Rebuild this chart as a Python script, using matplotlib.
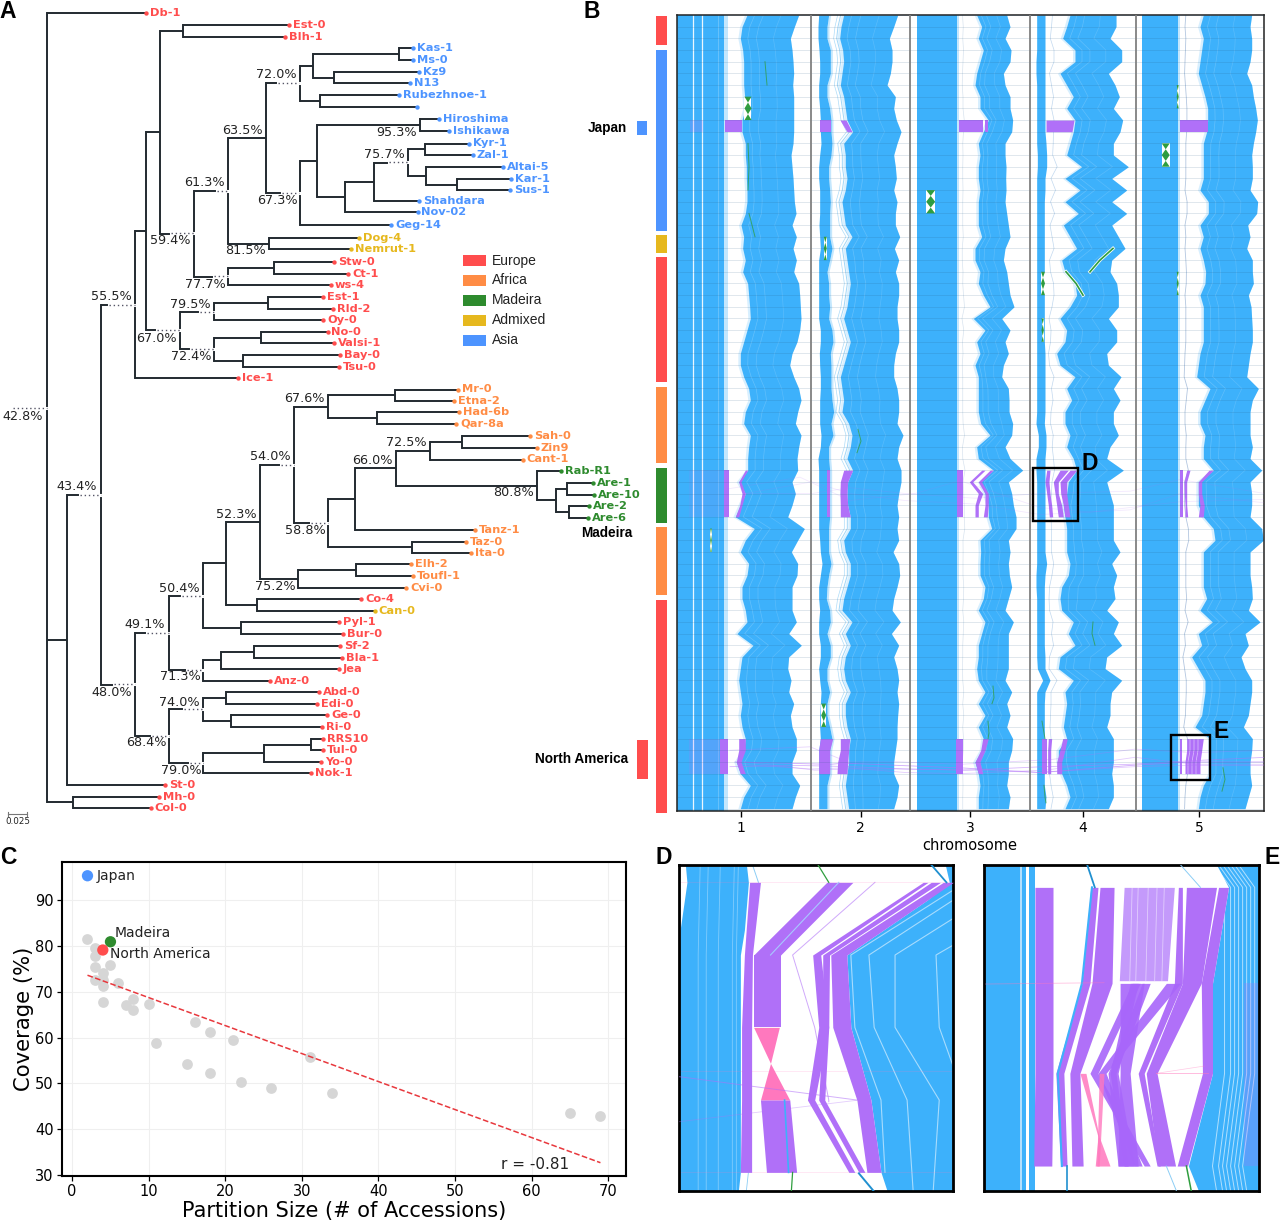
import matplotlib
matplotlib.use('Agg')
import matplotlib.pyplot as plt
import numpy as np

W, H = 1280, 1223

EUROPE = '#FF4D4D'
AFRICA = '#FF8C45'
MADEIRA = '#2E8B2E'
ADMIXED = '#E6B81E'
ASIA = '#4D94FF'
BLUE = '#3DB1FB'
PURPLE = '#B070F8'
PINK = '#FF78BE'
GREEN = '#2F9E3F'

# ---- panel A: accessions (name, tip x, row y, group)
leaf_names = ['Db-1', 'Est-0', 'Blh-1', 'Kas-1', 'Ms-0', 'Kz9', 'N13', 'Rubezhnoe-1', 'unnamed', 'Hiroshima',
              'Ishikawa', 'Kyr-1', 'Zal-1', 'Altai-5', 'Kar-1', 'Sus-1', 'Shahdara', 'Nov-02', 'Geg-14', 'Dog-4',
              'Nemrut-1', 'Stw-0', 'Ct-1', 'ws-4', 'Est-1', 'Rld-2', 'Oy-0', 'No-0', 'Valsi-1', 'Bay-0', 'Tsu-0',
              'Ice-1', 'Mr-0', 'Etna-2', 'Had-6b', 'Qar-8a', 'Sah-0', 'Zin9', 'Cant-1', 'Rab-R1', 'Are-1', 'Are-10',
              'Are-2', 'Are-6', 'Tanz-1', 'Taz-0', 'Ita-0', 'Elh-2', 'Toufl-1', 'Cvi-0', 'Co-4', 'Can-0', 'Pyl-1',
              'Bur-0', 'Sf-2', 'Bla-1', 'Jea', 'Anz-0', 'Abd-0', 'Edi-0', 'Ge-0', 'Ri-0', 'RRS10', 'Tul-0', 'Yo-0',
              'Nok-1', 'St-0', 'Mh-0', 'Col-0']
leaf_x = [146, 289, 285, 412.5, 412.5, 418.6, 409.6, 399, 416.8, 438.6,
          449, 469, 472.5, 503, 510.7, 510, 419, 417.5, 391, 359,
          350.7, 334, 348, 331, 323, 333, 323, 327.5, 334, 340, 338.6,
          238, 458, 453.7, 458.8, 456, 530, 536.6, 522.7, 560.6, 592.6, 594,
          589, 588.4, 474.7, 466, 471, 410.8, 412.5, 406, 361, 374.6, 339,
          343, 340, 341.8, 339, 270, 319, 316.5, 327.4, 322, 322.8, 322.8, 320.7,
          310.6, 165.4, 158.7, 150.7]
leaf_y = [13.3, 25, 36.7, 48, 60, 72, 83, 95, 106.5, 119,
          131, 143.5, 155, 167, 179, 190, 201, 212, 225, 238,
          249, 262, 274, 285, 297, 309, 320, 332, 343, 355, 367,
          378, 389.5, 401, 412, 424, 436, 448, 459.5, 471, 483, 494.6,
          506, 517.6, 530, 541.6, 553, 564, 576, 587.6, 599, 611, 622,
          634, 645.6, 657.6, 669, 680.6, 692, 703.6, 715, 727, 739, 750, 762,
          773, 785, 796.6, 808]
leaf_groups = 'EEE' + 'A' * 16 + 'XX' + 'E' * 11 + 'F' * 7 + 'M' * 5 + 'F' * 6 + 'EX' + 'E' * 19
group_colors = {'E': EUROPE, 'F': AFRICA, 'M': MADEIRA, 'X': ADMIXED, 'A': ASIA}

# internal nodes: (vertical line x, children...)
asia_top = (300, (313, (399, 'Kas-1', 'Ms-0'), (334, 'Kz9', 'N13')), (320, 'Rubezhnoe-1', 'unnamed'))
asia_low = (300, (317, (420, 'Hiroshima', 'Ishikawa'),
                  (345, (374, (408, (425, 'Kyr-1', 'Zal-1'), (426, 'Altai-5', (457, 'Kar-1', 'Sus-1'))), 'Shahdara'),
                   'Nov-02')), 'Geg-14')
upper = (193.5, (228, (266, asia_top, asia_low), (268.6, 'Dog-4', 'Nemrut-1')),
         (228, (273.6, 'Stw-0', 'Ct-1'), 'ws-4'))
euro = (179.6, (214, (268, 'Est-1', 'Rld-2'), 'Oy-0'), (213.6, (261, 'No-0', 'Valsi-1'), (243, 'Bay-0', 'Tsu-0')))
top_clade = (135, (146, (160, (183, 'Est-0', 'Blh-1'), upper), euro), 'Ice-1')
madeira_clade = (537, 'Rab-R1', (556, (567, 'Are-1', 'Are-10'), (569, 'Are-2', 'Are-6')))
africa = (294, (328, (394.8, 'Mr-0', 'Etna-2'), (376.7, 'Had-6b', 'Qar-8a')),
          (328, (355, (396, (430, (462, 'Sah-0', 'Zin9'), 'Cant-1'), madeira_clade), 'Tanz-1'),
           (411.6, 'Taz-0', 'Ita-0')))
mixed = (203, (226, (259.5, africa, (298, (355.6, 'Elh-2', 'Toufl-1'), 'Cvi-0')), (257, 'Co-4', 'Can-0')),
         (241, 'Pyl-1', 'Bur-0'))
sf = (203, (221, (254, 'Sf-2', 'Bla-1'), 'Jea'), 'Anz-0')
abd = (169, (203, (225.6, 'Abd-0', 'Edi-0'), (231, 'Ge-0', 'Ri-0')),
       (203, (263.5, (311, 'RRS10', 'Tul-0'), 'Yo-0'), 'Nok-1'))
low_clade = (134.7, (169, mixed, sf), abd)
tree = (47, 'Db-1', (66.5, (100.5, top_clade, low_clade), 'St-0'), (73, 'Mh-0', 'Col-0'))

support_text = ['72.0%', '63.5%', '61.3%', '59.4%', '81.5%', '67.3%', '95.3%', '75.7%', '77.7%', '79.5%', '55.5%',
                '67.0%', '72.4%', '42.8%', '43.4%', '67.6%', '54.0%', '72.5%', '66.0%', '80.8%', '52.3%', '58.8%',
                '75.2%', '50.4%', '49.1%', '71.3%', '48.0%', '74.0%', '68.4%', '79.0%']
support_x = [276, 242, 204, 170, 246, 277, 397, 384, 205, 190, 111, 156, 191, 22.7, 76.6, 304, 270, 406.6, 372.5, 514,
             236, 305, 275.7, 179, 145, 180, 112, 179, 146, 181]
support_y = [75, 131, 183, 241, 251, 200, 132, 155, 284, 304, 297, 338, 357, 416, 487, 399, 457, 443, 460.7, 493,
             514, 530, 586, 588, 625, 677, 692, 702, 743, 771]
dot_x0 = [278, 217, 171, 282, 389, 213.5, 200, 109, 157, 191, 12.6, 80, 281, 311, 182, 147, 187, 113.6, 184, 151.5, 190]
dot_x1 = [299, 228, 193.5, 299, 408, 228, 213.6, 135, 179.6, 213.6, 47, 100.5, 294, 328, 203, 169, 203, 134.7, 203, 169, 203]
dot_y = [83, 191, 233, 193, 162, 276, 312, 305, 330, 349, 407.7, 495, 465, 523, 596, 633, 670, 684, 709, 736, 763]

legend_names = ['Europe', 'Africa', 'Madeira', 'Admixed', 'Asia']
legend_colors = [EUROPE, AFRICA, MADEIRA, ADMIXED, ASIA]
legend_y = [260.5, 280.5, 300.5, 320.5, 340.5]

# ---- panel B: side bars (top y, bottom y, colour)
bar_tops = [16, 50, 235, 257, 387, 468, 527, 600]
bar_bottoms = [45, 231, 253, 382, 463, 523, 595, 813]
bar_colors = [EUROPE, ASIA, ADMIXED, EUROPE, AFRICA, MADEIRA, AFRICA, EUROPE]

chr1_inner = [210, 195, 190, 197, 200, 200, 200, 203, 205, 195, 195, 205, 205, 208, 208, 210, 210, 205, 192, 200,
              197, 205, 197, 212, 215, 218, 220, 210, 200, 190, 190, 200, 215, 220, 205,
              200, 220, 215, 212, 212, 185, 205, 190, 175, 232, 205, 190, 215, 210, 195, 195, 205, 210, 180, 228,
              195, 190, 185, 190, 195, 190, 195, 205, 200, 178, 190, 220, 200, 190]
chr1_right = [365, 352, 340, 345, 348, 350, 347, 350, 350, 350, 350, 348, 342, 345, 348, 350, 352, 357, 345, 358,
              348, 358, 350, 365, 368, 370, 372, 368, 360, 345, 338, 350, 365, 372, 362,
              355, 372, 365, 360, 362, 345, 355, 345, 332, 382, 362, 343, 362, 360, 345, 345, 345, 358, 335, 373,
              335, 332, 342, 335, 350, 340, 345, 358, 358, 345, 345, 368, 355, 345]
chr2_left_l = [425, 423, 423, 426, 428, 428, 425, 425, 428, 430, 430, 432, 428, 425, 425, 428, 428, 428, 426, 428,
               430, 425, 425, 425, 425, 425, 425, 430, 430, 427, 428, 430, 430, 428, 428,
               428, 432, 430, 423, 425, 425, 425, 425, 425, 425, 428, 430, 435, 430, 425, 425, 428, 425, 425, 430,
               430, 425, 428, 432, 430, 428, 428, 430, 425, 425, 425, 425, 425, 425]
chr2_left_r = [455, 450, 450, 460, 460, 460, 450, 450, 458, 462, 462, 465, 462, 455, 455, 458, 460, 458, 458, 458,
               465, 458, 450, 455, 455, 458, 455, 465, 468, 460, 462, 462, 462, 465, 470,
               462, 468, 455, 455, 458, 458, 458, 458, 458, 455, 455, 455, 462, 455, 450, 448, 458, 460, 450, 460,
               460, 450, 450, 458, 450, 450, 458, 465, 458, 458, 458, 450, 450, 450]
chr2_inner = [500, 492, 488, 497, 500, 495, 490, 500, 505, 510, 527, 500, 505, 505, 510, 505, 495, 500, 505, 525,
              505, 510, 515, 520, 515, 510, 500, 510, 520, 510, 500, 490, 495, 500, 495,
              515, 525, 520, 510, 527, 512, 510, 512, 520, 520, 500, 505, 520, 520, 510, 500, 495, 525, 505, 520,
              505, 500, 505, 520, 505, 505, 510, 520, 515, 515, 510, 505, 510, 515]
chr2_right = [662, 650, 637, 645, 645, 640, 630, 655, 650, 658, 672, 660, 650, 655, 658, 650, 660, 655, 655, 668,
              652, 665, 655, 665, 665, 660, 660, 665, 665, 655, 650, 650, 660, 665, 665,
              660, 678, 665, 660, 672, 672, 665, 660, 665, 660, 665, 648, 665, 668, 660, 650, 645, 670, 643, 665,
              650, 660, 665, 660, 665, 662, 660, 660, 655, 650, 650, 665, 660, 650]
chr3_inner = [200, 215, 205, 220, 210, 200, 195, 210, 210, 235, 220, 205, 210, 205, 205, 210, 205, 205, 205, 215,
              195, 195, 210, 205, 220, 240, 190, 225, 200, 210, 195, 205, 205, 205, 205,
              212, 240, 200, 205, 250, 210, 225, 235, 235, 245, 210, 212, 210, 210, 225, 220, 205, 225, 215, 205,
              205, 200, 205, 225, 205, 225, 205, 220, 215, 195, 205, 210, 205, 205]
chr3_right = [290, 300, 285, 303, 300, 280, 285, 300, 300, 308, 305, 285, 285, 288, 287, 288, 285, 290, 295, 300,
              285, 280, 290, 295, 300, 312, 275, 300, 285, 295, 280, 275, 295, 297, 297,
              308, 305, 285, 300, 338, 295, 305, 310, 318, 318, 295, 300, 295, 298, 305, 295, 285, 310, 295, 295,
              295, 295, 285, 305, 290, 300, 290, 308, 305, 295, 295, 290, 300, 295]
chr4_left_l = [380, 380, 380, 380, 378, 378, 380, 380, 380, 380, 380, 380, 382, 382, 380, 380, 380, 380, 380, 380,
               380, 380, 380, 380, 380, 380, 380, 380, 380, 380, 380, 380, 380, 380, 380,
               378, 385, 385, 378, 378, 380, 380, 380, 380, 380, 380, 380, 380, 378, 378, 380, 380, 380, 380, 380,
               380, 382, 398, 380, 380, 380, 380, 380, 380, 380, 380, 380, 380, 380]
chr4_left_r = [405, 405, 405, 405, 405, 405, 405, 405, 405, 405, 405, 408, 410, 410, 405, 405, 403, 403, 403, 403,
               403, 403, 403, 403, 403, 403, 403, 403, 403, 405, 405, 405, 405, 405, 405,
               403, 408, 408, 405, 405, 405, 405, 405, 405, 405, 405, 405, 410, 405, 403, 403, 403, 403, 403, 403,
               405, 405, 420, 405, 403, 403, 403, 403, 403, 403, 403, 403, 408, 405]
chr4_inner = [480, 470, 458, 495, 495, 450, 470, 490, 470, 495, 490, 480, 470, 515, 465, 510, 465, 505, 460, 480,
              500, 455, 465, 495, 500, 480, 450, 470, 465, 440, 450, 495, 470, 485, 465,
              465, 480, 470, 490, 500, 475, 470, 460, 465, 470, 470, 470, 480, 475, 455, 450, 455, 490, 475, 495,
              450, 445, 490, 465, 470, 465, 460, 470, 445, 445, 455, 470, 480, 465]
chr4_right = [618, 618, 600, 635, 635, 595, 615, 628, 610, 638, 630, 610, 610, 655, 605, 650, 605, 650, 605, 625,
              645, 605, 600, 620, 625, 625, 595, 620, 620, 590, 595, 633, 610, 630, 610,
              610, 625, 600, 590, 640, 590, 600, 610, 610, 610, 610, 630, 605, 620, 610, 615, 590, 625, 610, 635,
              590, 585, 635, 605, 600, 600, 590, 610, 610, 610, 605, 610, 610, 595]
chr5_inner = [205, 195, 205, 200, 195, 190, 200, 210, 218, 218, 215, 205, 205, 205, 205, 195, 220, 220, 195, 205,
              195, 205, 212, 210, 195, 205, 205, 205, 205, 195, 190, 185, 225, 210, 195,
              195, 210, 205, 205, 235, 190, 190, 190, 205, 235, 240, 205, 205, 205, 205, 215, 195, 232, 190, 200,
              170, 190, 210, 210, 205, 200, 180, 225, 225, 225, 225, 205, 195, 190]
chr5_right = [350, 345, 350, 350, 345, 335, 350, 355, 362, 367, 362, 355, 350, 352, 352, 345, 368, 365, 338, 345,
              335, 352, 352, 355, 340, 348, 350, 352, 352, 345, 340, 335, 370, 352, 345,
              345, 345, 352, 345, 380, 345, 350, 350, 345, 380, 385, 345, 345, 345, 350, 352, 340, 375, 330, 340,
              318, 330, 350, 350, 345, 340, 325, 352, 350, 345, 345, 350, 340, 330]

chrom_ticks = [741, 860.6, 970, 1082.6, 1199]
chrom_labels = ['1', '2', '3', '4', '5']
chrom_bounds = [811.3, 910, 1029.5, 1136]

# purple ribbons in panel B: first row, left edges, right edges (px per row)
ribbon_rows = [39, 39, 39, 39, 39, 39, 39, 39, 39, 39, 39, 39, 39,
               62, 62, 62, 62, 62, 62, 62, 62, 62, 62, 62, 62]
ribbon_left = [[723.7] * 5, [745.3, 738.7, 742, 739.7, 735.3], [827] * 5, [843.7, 840.3, 840, 840.3, 840.3],
               [956.7] * 5, [981.7, 969.3, 978.3, 975, 975], [990, 978.3, 985, 985, 983.3],
               [1046.7, 1045, 1046.7, 1048.3, 1049.3], [1060, 1053.3, 1055, 1056.7, 1058.3],
               [1070, 1060, 1060.7, 1063.3, 1065], [1186.7, 1184, 1184.3, 1185, 1185],
               [1209, 1198.3, 1198.3, 1200, 1198.3], [1180] * 5,
               [720.3] * 4, [738.7, 738.7, 736.3, 740.3], [820.3, 818.7, 818.7, 818.7], [840.3, 840.3, 837.7, 837],
               [956] * 4, [982.7, 980.7, 975, 978.3], [1041.7] * 4, [1048.3, 1047.7, 1047.7, 1047.7],
               [1062.7, 1060, 1056.7, 1056.7], [1186.7, 1186.7, 1185, 1185], [1180] * 4, [1180] * 4]
ribbon_right = [[728.7] * 5, [747.7, 741, 745.3, 742, 738.7], [830.3] * 5, [852.7, 847.7, 847, 847.7, 850.3],
                [963.3] * 5, [985, 972.7, 982.7, 978.3, 978.3], [993.3, 981.7, 988.3, 988.3, 987.3],
                [1050, 1049, 1050, 1051.7, 1052.7], [1068.3, 1058.3, 1058.3, 1061.7, 1063.3],
                [1076.7, 1066.7, 1066.7, 1068.3, 1070], [1190, 1186.7, 1186.7, 1186.7, 1187.7],
                [1213.3, 1201.7, 1201.7, 1204.3, 1203.3], [1182.7] * 5,
                [727.7] * 4, [745.3, 745.3, 741, 745.3], [832.7, 829.7, 829.7, 829.7], [849.7, 848.7, 847.7, 847],
                [963.3] * 4, [988.3, 985, 980, 982.7], [1046.7] * 4, [1051.7, 1050.7, 1050.7, 1050.7],
                [1067.3, 1065, 1061.7, 1061.7], [1203.3, 1201.7, 1200, 1200], [1182.3] * 4, [1182.3] * 4]
# Japan row (row 9 to 10)
japan_left_top = [725, 820, 840, 959, 985, 1046, 1180]
japan_right_top = [742, 831, 846, 983, 988, 1074, 1207.7]
japan_left_bot = [725, 820, 847, 959, 985, 1046, 1180]
japan_right_bot = [742, 831, 852, 983, 988, 1072, 1207.7]

# thin purple lines running between chromosomes (North America, Madeira rows)
link_x = [[735, 830, 845, 900, 960, 1040, 1130, 1190, 1265],
          [730, 800, 850, 905, 965, 1045, 1130, 1190, 1265],
          [740, 812, 848, 905, 960, 1046, 1135, 1195, 1265],
          [730, 810, 848, 900, 960, 1050, 1135, 1195, 1265],
          [745, 815, 850, 905, 975, 1040, 1135, 1180, 1265],
          [728, 800, 850, 915, 960, 1040, 1090, 1180, 1265],
          [745, 812, 850, 905, 975, 1040, 1130, 1180, 1265],
          [745, 812, 850, 905, 975, 1040, 1130, 1180, 1265]]
link_rows = [[64.0, 64.2, 64.1, 64.3, 64.5, 64.9, 64.3, 64.0, 64.0],
             [64.4, 64.3, 64.4, 64.6, 64.7, 64.4, 64.2, 63.9, 63.6],
             [64.2, 64.6, 64.5, 64.9, 65.0, 64.7, 63.6, 64.2, 64.2],
             [63.0, 62.7, 64.0, 64.0, 64.2, 63.8, 62.9, 63.2, 63.0],
             [64.0, 64.7, 64.6, 64.6, 64.7, 64.9, 64.4, 64.3, 64.3],
             [40.6, 39.6, 41.6, 41.0, 39.9, 42.2, 42.6, 41.7, 41.5],
             [41.0, 40.0, 41.0, 41.6, 41.9, 42.8, 42.4, 41.0, 41.8],
             [41.0, 41.0, 40.5, 41.0, 41.4, 41.0, 40.8, 39.8, 41.0]]
link_alpha = [0.6, 0.5, 0.35, 0.3, 0.35, 0.15, 0.15, 0.15]

# inversions in panel B: centre x, half width, centre row
inv_x = [748, 930.7, 1165.7, 1043, 825.3, 1177.7, 1177.7, 823.7, 711, 1042.7]
inv_half = [3.5, 4.5, 4, 2, 1.5, 1, 1, 2.5, 0.8, 1.2]
inv_row = [8, 16, 12, 23, 20, 7, 23, 60, 45, 27]
# diagonal green pieces: xs, rows (the first two keep a white rim)
green_x = [[1066, 1076, 1083], [1090, 1100, 1113], [765, 766, 767], [749, 752, 755], [748, 749, 748],
           [858, 861, 857], [1093, 1092, 1095], [1223, 1225, 1222], [1042, 1044, 1045], [993, 994, 992],
           [988, 989, 988], [1044, 1045, 1046]]
green_rows = [[22, 23, 24], [22, 21, 20], [4, 5, 6], [17, 18, 19], [11, 13, 15], [35.5, 36.5, 37.5], [52, 53, 54],
              [64.5, 65.5, 66.5], [60.5, 61.5, 62], [57.5, 58.5, 59], [60.5, 61.5, 62], [66, 67, 67.5]]

# ---- panel C
gray_size = [2, 3, 3, 3, 3, 4, 4, 4, 4, 5, 6, 7, 8, 8, 10, 11, 15, 16, 18, 18, 21, 22, 26, 31, 34, 65, 69]
gray_cov = [81.5, 79.5, 77.8, 75.3, 72.5, 74, 72.5, 71.3, 67.7, 75.8, 72, 67, 68.5, 66.1, 67.3, 58.8, 54.2, 63.5,
            61.3, 52.3, 59.5, 50.4, 49.1, 55.7, 48, 43.5, 42.9]
named_size = [2, 5, 4]
named_cov = [95.3, 80.9, 79.1]
named_color = [ASIA, MADEIRA, EUROPE]
named_label = ['Japan', 'Madeira', 'North America']
label_x = [3.2, 5.6, 4.9]
label_y = [95.2, 82.9, 78.2]
fit_size = [2, 69]
fit_cov = [73.6, 32.7]

# ---- panels D and E: zoomed ribbons, y levels and x edges in crop units
d_levels = [97, 315, 532, 750, 967]
d_ribbons_left = [[248, 235, 228, 228, 225], [680, 405, 420, 392, 495], [700, 430, 430, 420, 520]]
d_ribbons_right = [[275, 255, 253, 253, 253], [692, 425, 445, 410, 510], [723, 447, 445, 435, 535]]
d_big_left = [730, 450, 455, 515, 540]
d_big_right = [755, 490, 500, 550, 575]
d_blue_y = [44, 97, 240, 315, 532, 750, 967, 1022]
d_blue_l = [88, 92, 75, 73, 73, 73, 73, 73]
d_blue_r = [240, 245, 235, 225, 225, 225, 225, 220]
d_blue2_y = [44, 97, 150, 315, 532, 750, 967, 1022]
d_blue2_l = [735, 745, 690, 490, 500, 550, 575, 590]
d_white_x = [[755, 610, 610, 720, 705], [755, 712, 720, 755, 755], [755, 545, 558, 640, 655], [755, 500, 510, 575, 585]]
d_white_y = [[205, 315, 532, 750, 1022], [285, 315, 532, 650, 650], [150, 315, 532, 750, 1022], [120, 315, 532, 750, 967]]

e_levels = [112, 400, 670, 948]
e_ribbons_left = [[958, 958, 958, 955], [1097, 1075, 1010, 1022], [1120, 1100, 1045, 1050],
                  [1315, 1305, 1215, 1262], [1335, 1325, 1235, 1265], [1415, 1372, 1375, 1312]]
e_ribbons_right = [[1003, 1003, 1003, 1000], [1115, 1095, 1030, 1038], [1155, 1150, 1070, 1078],
                   [1325, 1325, 1230, 1270], [1410, 1372, 1262, 1308], [1440, 1400, 1400, 1338]]
e_cross_y = [400, 670, 948]
e_cross_left = [[1200, 1095, 1230], [1225, 1140, 1165], [1285, 1115, 1205], [1170, 1170, 1165], [1195, 1145, 1180]]
e_cross_right = [[1220, 1115, 1245], [1245, 1160, 1190], [1320, 1135, 1225], [1230, 1195, 1215], [1215, 1165, 1205]]
e_blue_y = [44, 112, 400, 670, 948, 1022]
e_blue_l = [1410, 1440, 1400, 1400, 1340, 1365]
e_stripes = [1430, 1445, 1455, 1465, 1475, 1485, 1495, 1505]


def px_rect(x0, y0, x1, y1):
    return [x0 / W, 1 - y1 / H, (x1 - x0) / W, (y1 - y0) / H]


def draw_node(ax, node):
    # returns the y of the node, draws its vertical and the lines to its children
    if isinstance(node, str):
        i = leaf_names.index(node)
        return leaf_y[i]
    x = node[0]
    ys = []
    for child in node[1:]:
        y = draw_node(ax, child)
        if isinstance(child, str):
            i = leaf_names.index(child)
            end = leaf_x[i]
        else:
            end = child[0]
        ax.plot([x, end], [y, y], color='#222a30', lw=1.4, solid_capstyle='butt', zorder=2)
        ys.append(y)
    ax.plot([x, x], [ys[0], ys[-1]], color='#222a30', lw=1.4, solid_capstyle='projecting', zorder=2)
    return (ys[0] + ys[-1]) / 2


fig = plt.figure(figsize=(12.8, 12.23), dpi=100)

# page-wide axes in pixels for panel A, side bars and panel letters
ax = fig.add_axes([0, 0, 1, 1])
ax.set_xlim(0, W)
ax.set_ylim(H, 0)
ax.axis('off')

draw_node(ax, tree)
ax.plot([12.6, 47], [407.7, 407.7], color='#222a30', lw=1.2, zorder=2)
for x0, x1, y in zip(dot_x0, dot_x1, dot_y):
    ax.plot([x0, x1], [y, y], color='white', lw=2.2, zorder=3)
    ax.plot([x0, x1], [y, y], color='#555566', lw=1, ls=(0, (1, 2)), zorder=4)
for name, x, y, g in zip(leaf_names, leaf_x, leaf_y, leaf_groups):
    c = group_colors[g]
    ax.scatter([x], [y], s=10, color=c, zorder=5, linewidths=0)
    if name != 'unnamed':
        ax.text(x + 4, y, name, color=c, fontsize=8.2, fontweight='bold', va='center', ha='left')
for t, x, y in zip(support_text, support_x, support_y):
    ax.text(x, y, t, fontsize=9.2, color='#222222', ha='center', va='center', zorder=6)

ax.plot([7.6, 27], [814, 814], color='#777777', lw=0.8)
ax.plot([7.6, 7.6], [812, 816], color='#777777', lw=0.8)
ax.plot([27, 27], [812, 816], color='#777777', lw=0.8)
ax.text(17.5, 822, '0.025', fontsize=6.3, ha='center', va='center', color='#222222')

ax.barh(legend_y, [23] * 5, height=11.5, left=462.5, color=legend_colors)
for n, y in zip(legend_names, legend_y):
    ax.text(492, y, n, fontsize=10, family='Liberation Sans', va='center', ha='left', color='#222222')

ax.bar([661.5] * len(bar_tops), np.array(bar_bottoms) - np.array(bar_tops), width=11, bottom=bar_tops, color=bar_colors)
ax.bar([642], [14], width=10, bottom=[121], color=ASIA)
ax.bar([642.5], [39], width=11, bottom=[740], color=EUROPE)
ax.text(607, 128, 'Japan', fontsize=9.8, family='Liberation Sans', fontweight='bold', ha='center', va='center')
ax.text(607, 533, 'Madeira', fontsize=9.8, family='Liberation Sans', fontweight='bold', ha='center', va='center')
ax.text(581.5, 759, 'North America', fontsize=9.8, family='Liberation Sans', fontweight='bold', ha='center', va='center')

for letter, x, y in [('A', 8, 12), ('B', 592, 12), ('C', 8, 858), ('D', 664, 858), ('E', 1272, 858)]:
    ax.text(x, y, letter, fontsize=16.5, family='Liberation Sans', fontweight='bold', ha='center', va='center')

# ---- panel B
ax_b = fig.add_axes(px_rect(677, 15, 1264, 811))
ax_b.set_xlim(677, 1264)
ax_b.set_ylim(68.2, 0)
rows = np.arange(69)


def crop_px(values, origin):
    return origin + np.array(values) / 3.0


left_blocks = [(677, 724, 728), (916.7, 957, 959.5), (1142.3, 1178.3, 1180)]
for l, r, fade in left_blocks:
    ax_b.axvspan(l, r, color=BLUE, lw=0, zorder=1)
    ax_b.axvspan(r, fade, color=BLUE, alpha=0.3, lw=0, zorder=1)
for x in [692.7, 701.7]:
    ax_b.axvline(x, color='white', lw=0.9, alpha=0.9, zorder=2)
ax_b.axvline(718.5, color='white', lw=0.6, alpha=0.25, zorder=2)

bands = [(chr1_inner, chr1_right, 677), (chr2_inner, chr2_right, 677), (chr3_inner, chr3_right, 910),
         (chr4_inner, chr4_right, 910), (chr5_inner, chr5_right, 1135)]
for inner, right, org in bands:
    xl = crop_px(inner, org)
    xr = crop_px(right, org)
    ax_b.fill_betweenx(rows, xl - 2.5, xr, color=BLUE, alpha=0.2, lw=0, zorder=1)
    ax_b.fill_betweenx(rows, xl, xr, color=BLUE, lw=0, zorder=1)
    for frac, a in [(0.15, 0.2), (0.32, 0.18), (0.66, 0.14)]:
        ax_b.plot(xl + frac * (xr - xl), rows, color='white', lw=0.5, alpha=a, zorder=2)

for l_vals, r_vals, org in [(chr2_left_l, chr2_left_r, 677), (chr4_left_l, chr4_left_r, 910)]:
    ax_b.fill_betweenx(rows, crop_px(l_vals, org), crop_px(r_vals, org), color=BLUE, lw=0, zorder=1)
# pale lines running down the gaps
c2r = crop_px(chr2_left_r, 677)
c2i = crop_px(chr2_inner, 677)
ax_b.fill_betweenx(rows, c2r, c2r + 2, color=BLUE, alpha=0.3, lw=0, zorder=1)
ax_b.plot(c2i - 3, rows, color='#8ccdf5', lw=0.7, alpha=0.8, zorder=2)
ax_b.plot(c2i - 6, rows, color='#8ccdf5', lw=0.5, alpha=0.7, zorder=2)
c4r = crop_px(chr4_left_r, 910)
c4i = crop_px(chr4_inner, 910)
ax_b.plot(0.7 * c4r + 0.3 * c4i, rows, color='#a8c8e8', lw=0.5, alpha=0.7, zorder=2)
c5i = crop_px(chr5_inner, 1135)
ax_b.plot(0.75 * 1180 + 0.25 * c5i, rows, color='#a0b8d8', lw=0.6, alpha=0.8, zorder=2)
c3i = crop_px(chr3_inner, 910)
ax_b.plot(0.85 * 960 + 0.15 * c3i, rows, color='#c8d8e8', lw=0.5, alpha=0.7, zorder=2)

# ribbons of the partitions that were inverted or moved
ax_b.axhspan(39, 43, xmin=0.02, xmax=0.08, color=PURPLE, alpha=0.12, lw=0, zorder=3)
ax_b.axhspan(62, 65, xmin=0.02, xmax=0.08, color=PURPLE, alpha=0.2, lw=0, zorder=3)
ax_b.axhspan(9, 10, xmin=0.022, xmax=0.045, color=PURPLE, alpha=0.22, lw=0, zorder=3)
for first, l_vals, r_vals in zip(ribbon_rows, ribbon_left, ribbon_right):
    rr = first + np.arange(len(l_vals))
    ax_b.fill_betweenx(rr, l_vals, r_vals, color=PURPLE, lw=0, zorder=4)
for x in [1190, 1194, 1198]:
    ax_b.plot([x, x, x - 2, x - 2], [62, 63, 64, 65], color='white', lw=0.5, alpha=0.6, zorder=5)
for lt, rt, lb, rb in zip(japan_left_top, japan_right_top, japan_left_bot, japan_right_bot):
    ax_b.fill_betweenx([9, 10], [lt, lb], [rt, rb], color=PURPLE, lw=0, zorder=4)
for xs, rr, a in zip(link_x, link_rows, link_alpha):
    ax_b.plot(xs, rr, color=PURPLE, lw=0.6, alpha=a, zorder=5)

for x, hw, r in zip(inv_x, inv_half, inv_row):
    ax_b.fill_between([x - hw, x + hw], r - 1, r + 1, color='white', lw=0, zorder=6)
    ax_b.fill([x - hw, x + hw, x], [r - 1, r - 1, r - 0.5], color=GREEN, lw=0, zorder=7)
    ax_b.fill([x, x + hw, x, x - hw], [r - 0.5, r, r + 0.5, r], color=GREEN, lw=0, zorder=7)
    ax_b.fill([x - hw, x + hw, x], [r + 1, r + 1, r + 0.5], color=GREEN, lw=0, zorder=7)
for n, (xs, rr) in enumerate(zip(green_x, green_rows)):
    if n < 2:
        ax_b.plot(xs, rr, color='white', lw=2.4, zorder=6)
        ax_b.plot(xs, rr, color=GREEN, lw=1.2, zorder=7)
    else:
        ax_b.plot(xs, rr, color=GREEN, lw=0.7, alpha=0.75, zorder=7)

ax_b.hlines(rows, 677, 1264, color='#245a80', lw=0.5, alpha=0.2, zorder=8)
for x in chrom_bounds:
    ax_b.axvline(x, color='#808080', lw=1.3, zorder=9)

# boxes around the zoomed regions
ax.add_patch(plt.Rectangle((1033.3, 467.7), 44.4, 53.3, fill=False, ec='black', lw=1.7, zorder=20))
ax.add_patch(plt.Rectangle((1171, 735), 38.7, 45, fill=False, ec='black', lw=1.7, zorder=20))
ax.set_zorder(5)
ax.text(1090, 463, 'D', fontsize=16.5, family='Liberation Sans', fontweight='bold', ha='center', va='center', zorder=21)
ax.text(1221, 732, 'E', fontsize=16.5, family='Liberation Sans', fontweight='bold', ha='center', va='center', zorder=21)

ax_b.set_xticks(chrom_ticks)
ax_b.set_xticklabels(chrom_labels, fontsize=10)
ax_b.set_yticks([])
ax_b.tick_params(axis='x', length=4, width=1, pad=3)
ax_b.set_xlabel('chromosome', fontsize=10.5)
ax_b.xaxis.set_label_coords((970 - 677) / 587, -0.034)
for s in ['right', 'top', 'left', 'bottom']:
    ax_b.spines[s].set_linewidth(1.1)
    ax_b.spines[s].set_color('#222222')

# ---- panel C
ax_c = fig.add_axes(px_rect(62, 862, 625.7, 1176))
ax_c.set_xlim(-1.33, 72.3)
ax_c.set_ylim(29.8, 98.3)
ax_c.grid(True, color='#efefef', lw=0.8)
ax_c.set_axisbelow(True)
ax_c.scatter(gray_size, gray_cov, s=60, color='#d6d6d6', linewidths=0, zorder=2)
ax_c.scatter(named_size, named_cov, s=66, c=named_color, linewidths=0, zorder=3)
for n, x, y in zip(named_label, label_x, label_y):
    ax_c.text(x, y, n, fontsize=10, va='center', ha='left', color='#222222', zorder=4)
ax_c.plot(fit_size, fit_cov, color='#e8383d', lw=1.1, ls='--', zorder=3)
ax_c.text(56, 32.2, 'r = -0.81', fontsize=11, va='center', ha='left', color='#222222')
ax_c.set_xticks(np.arange(0, 71, 10))
ax_c.set_yticks(np.arange(30, 91, 10))
ax_c.tick_params(labelsize=10.5, length=3.5, width=0.9, pad=2.5)
ax_c.set_xlabel('Partition Size (# of Accessions)', fontsize=15, labelpad=1)
ax_c.set_ylabel('Coverage (%)', fontsize=15.2, labelpad=1)
for s in ax_c.spines.values():
    s.set_linewidth(1.5)

# ---- panel D
ax_d = fig.add_axes(px_rect(679.3, 864.7, 953.3, 1190.7))
ax_d.set_xlim(73, 755)
ax_d.set_ylim(1022, 44)
ax_d.fill_betweenx(d_blue_y, d_blue_l, d_blue_r, color=BLUE, lw=0, zorder=1)
ax_d.fill_betweenx(d_blue2_y, d_blue2_l, [755] * 8, color=BLUE, lw=0, zorder=1)
for x in [120, 140, 170, 205, 215]:
    ax_d.plot([x + 5, x, x, x, x], [44, 315, 532, 750, 1022], color='white', lw=0.6, alpha=0.35, zorder=2)
for xs, ys in zip(d_white_x, d_white_y):
    ax_d.plot(xs, ys, color='white', lw=0.8, alpha=0.55, zorder=2)
ax_d.plot([225, 240, 245], [1022, 1022, 967], color='#8ccdf5', lw=0.6, zorder=2)
ax_d.plot([255, 270], [44, 97], color='#8ccdf5', lw=0.7, zorder=2)
for l_vals, r_vals in zip(d_ribbons_left, d_ribbons_right):
    ax_d.fill_betweenx(d_levels, l_vals, r_vals, color=PURPLE, lw=0, zorder=3)
ax_d.fill_betweenx(d_levels, d_big_left, d_big_right, color=PURPLE, lw=0, zorder=3)
ax_d.fill_betweenx([97, 315], [440, 258], [505, 325], color=PURPLE, lw=0, zorder=3)
ax_d.plot([470, 300], [97, 315], color='#a8c8ff', lw=0.8, zorder=4)
ax_d.fill_betweenx([315, 532], [258, 258], [325, 325], color=PURPLE, lw=0, zorder=3)
ax_d.fill_betweenx([532, 640, 750], [258, 300, 275], [322, 300, 348], color=PINK, lw=0, zorder=3)
ax_d.fill_betweenx([750, 967], [275, 290], [348, 365], color=PURPLE, lw=0, zorder=3)
ax_d.plot([335, 345], [750, 967], color=BLUE, lw=1.2, zorder=4)
ax_d.plot([560, 355, 410, 445, 445], [97, 315, 532, 750, 755], color=PURPLE, lw=0.7, alpha=0.6, zorder=2)
ax_d.plot([700, 738], [44, 97], color='#2090D0', lw=1.3, zorder=4)
ax_d.plot([520, 556], [970, 1022], color='#2090D0', lw=1.4, zorder=4)
ax_d.plot([418, 445], [44, 97], color=GREEN, lw=0.9, zorder=4)
ax_d.plot([355, 352], [967, 1022], color=GREEN, lw=0.9, zorder=4)
ax_d.plot([73, 515], [680, 750], color=PURPLE, lw=0.7, alpha=0.55, zorder=4)
ax_d.plot([73, 520], [815, 750], color=PURPLE, lw=0.6, alpha=0.35, zorder=4)
for y in [97, 967, 664]:
    ax_d.axhline(y, color=PINK, lw=0.4, alpha=0.3, zorder=2)

# ---- panel E
ax_e = fig.add_axes(px_rect(983.5, 864.7, 1258.7, 1190.7))
ax_e.set_xlim(830, 1515)
ax_e.set_ylim(1022, 44)
ax_e.axvspan(833, 920, color=BLUE, lw=0, zorder=1)
ax_e.axvspan(920, 925, color=BLUE, alpha=0.4, lw=0, zorder=1)
ax_e.axvspan(925, 936, color=BLUE, lw=0, zorder=1)
ax_e.axvspan(944, 957, color=BLUE, lw=0, zorder=1)
ax_e.fill_betweenx(e_blue_y, e_blue_l, [1515] * 6, color=BLUE, lw=0, zorder=1)
for x in e_stripes:
    ax_e.plot([x - 40, x, x, x, x - 30, x - 20], [44, 112, 400, 670, 948, 1022], color='white', lw=0.7, alpha=0.6, zorder=2)
ax_e.fill_betweenx([400, 948], [1478, 1478], [1515, 1515], color=PURPLE, alpha=0.25, lw=0, zorder=2)
for l_vals, r_vals in zip(e_ribbons_left, e_ribbons_right):
    ax_e.fill_betweenx(e_levels, l_vals, r_vals, color=PURPLE, lw=0, zorder=3)
ax_e.fill_betweenx([112, 392], [1180, 1168], [1305, 1288], color='#C49AFB', lw=0, zorder=3)
for x in [1200, 1215, 1240, 1262, 1280]:
    ax_e.plot([x, x - 6], [112, 392], color='white', lw=0.6, alpha=0.5, zorder=4)
for l_vals, r_vals in zip(e_cross_left, e_cross_right):
    ax_e.fill_betweenx(e_cross_y, l_vals, r_vals, color='#A866FA', alpha=0.9, lw=0, zorder=3)
ax_e.fill_betweenx([670, 860, 948], [1070, 1115, 1108], [1085, 1118, 1145], color=PINK, alpha=0.85, lw=0, zorder=4)
ax_e.fill_betweenx([670, 948], [1118, 1112], [1130, 1118], color=PINK, alpha=0.8, lw=0, zorder=4)
ax_e.plot([1088, 1107], [44, 112], color='#2090D0', lw=1.3, zorder=4)
ax_e.plot([1037, 1037], [948, 1022], color='#2090D0', lw=1.2, zorder=4)
ax_e.plot([1335, 1347], [948, 1022], color=GREEN, lw=1.1, zorder=4)
ax_e.plot([1285, 1310], [948, 1022], color='#8ccdf5', lw=0.7, zorder=4)
ax_e.plot([1320, 1370], [44, 112], color='#8ccdf5', lw=0.7, zorder=4)
ax_e.plot([1100, 1075, 1015, 1025], [112, 400, 670, 948], color=BLUE, lw=1.5, zorder=5)
ax_e.plot([835, 1130], [402, 398], color=PINK, lw=0.6, alpha=0.45, zorder=5)
ax_e.plot([1260, 1380], [670, 648], color=PINK, lw=0.5, alpha=0.4, zorder=5)
ax_e.plot([1260, 1390], [670, 670], color=PINK, lw=0.7, alpha=0.5, zorder=5)

for a in [ax_d, ax_e]:
    a.set_xticks([])
    a.set_yticks([])
    for s in a.spines.values():
        s.set_linewidth(2)

plt.savefig('out.png', dpi=100)
